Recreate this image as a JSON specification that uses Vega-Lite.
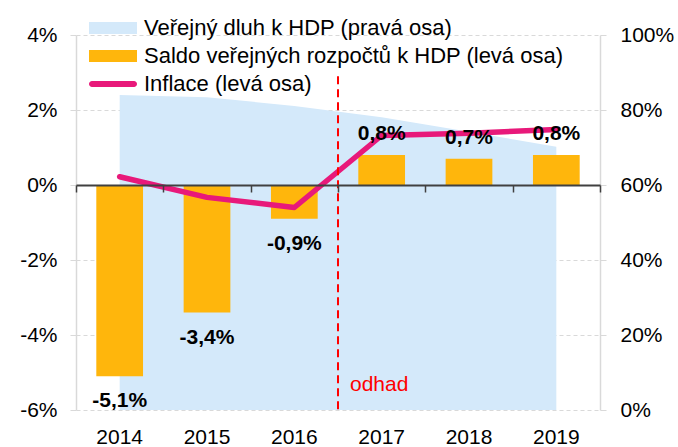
{
  "$schema": "https://vega.github.io/schema/vega-lite/v6.json",
  "width": 524,
  "height": 375,
  "autosize": "none",
  "padding": {"left": 76, "top": 35, "right": 78, "bottom": 37},
  "data": {
    "values": [
      {"year": "2014", "saldo": -0.051, "inflace": 0.0022, "dluh": 0.840},
      {"year": "2015", "saldo": -0.034, "inflace": -0.0033, "dluh": 0.834},
      {"year": "2016", "saldo": -0.009, "inflace": -0.0060, "dluh": 0.811},
      {"year": "2017", "saldo": 0.008, "inflace": 0.0132, "dluh": 0.781},
      {"year": "2018", "saldo": 0.007, "inflace": 0.0138, "dluh": 0.742},
      {"year": "2019", "saldo": 0.008, "inflace": 0.0148, "dluh": 0.702}
    ]
  },
  "config": {
    "view": {"stroke": null},
    "font": "Liberation Sans",
    "locale": {"number": {"decimal": ",", "thousands": " ", "grouping": [3], "currency": ["", " Kč"], "minus": "-"}},
    "axis": {"labelFont": "Liberation Sans", "labelFontSize": 21, "labelColor": "#000000", "title": null}
  },
  "layer": [
    {
      "mark": {"type": "area", "opacity": 1, "interpolate": "linear"},
      "encoding": {
        "x": {
          "field": "year", "type": "nominal",
          "scale": {"type": "band", "paddingInner": 0, "paddingOuter": 0},
          "axis": {"orient": "bottom", "domain": false, "ticks": false, "grid": false, "labelPadding": 16, "labelAngle": 0}
        },
        "y": {
          "field": "dluh", "type": "quantitative",
          "scale": {"domain": [0, 1], "nice": false},
          "axis": {"orient": "right", "values": [0, 0.2, 0.4, 0.6, 0.8, 1], "format": ".0%", "grid": false, "domainColor": "#D9D9D9", "domainWidth": 1.5, "tickColor": "#D9D9D9", "tickSize": 6, "labelPadding": 14}
        },
        "color": {
          "datum": "Veřejný dluh k HDP (pravá osa)",
          "scale": {
            "domain": ["Veřejný dluh k HDP (pravá osa)", "Saldo veřejných rozpočtů k HDP (levá osa)", "Inflace (levá osa)"],
            "range": ["#D4E9FA", "#FFB60C", "#E8197A"]
          },
          "legend": {
            "title": null,
            "orient": "none",
            "legendX": 8,
            "legendY": -18,
            "labelFont": "Liberation Sans",
            "labelFontSize": 22,
            "labelColor": "#000000",
            "labelLimit": 600,
            "labelOffset": 38,
            "rowPadding": 6,
            "symbolType": "M-1,-1H7V1H-1Z",
            "symbolSize": 144,
            "symbolStrokeWidth": 0,
            "symbolOpacity": 1,
            "encode": {
              "symbols": {
                "update": {
                  "shape": {"signal": "datum.value === 'Inflace (levá osa)' ? 'M-0.5,-0.5H6.5A0.5,0.5 0 0 1 6.5,0.5H-0.5A0.5,0.5 0 0 1 -0.5,-0.5Z' : 'M-1,-1H7V1H-1Z'"},
                  "fill": {"scale": "color", "field": "value"},
                  "stroke": {"value": "transparent"},
                  "opacity": {"value": 1}
                }
              }
            }
          }
        }
      }
    },
    {
      "encoding": {
        "x": {
          "field": "year", "type": "nominal",
          "scale": {"type": "band", "paddingInner": 0, "paddingOuter": 0},
          "axis": {"orient": "bottom", "offset": -225, "labels": false, "grid": false, "zindex": 1, "domainColor": "#404040", "domainWidth": 2, "ticks": true, "tickColor": "#404040", "tickWidth": 1.5, "tickSize": 7, "tickBand": "extent"}
        }
      },
      "layer": [
        {
          "mark": {"type": "bar", "width": {"band": 0.535}},
          "encoding": {
            "y": {
              "field": "saldo", "type": "quantitative",
              "scale": {"domain": [-0.06, 0.04], "nice": false, "zero": false},
              "axis": {"orient": "left", "values": [-0.06, -0.04, -0.02, 0, 0.02, 0.04], "format": ".0%", "grid": true, "gridColor": "#D9D9D9", "gridDash": [4, 3], "gridWidth": 1.2, "domainColor": "#D9D9D9", "domainWidth": 1.5, "tickColor": "#D9D9D9", "tickSize": 6, "labelPadding": 13}
            },
            "color": {"datum": "Saldo veřejných rozpočtů k HDP (levá osa)", "legend": null}
          }
        },
        {
          "mark": {"type": "line", "strokeWidth": 5.5, "strokeCap": "round", "strokeJoin": "round"},
          "encoding": {
            "y": {"field": "inflace", "type": "quantitative"},
            "color": {"datum": "Inflace (levá osa)", "legend": null}
          }
        },
        {
          "transform": [{"filter": "datum.saldo >= 0"}],
          "mark": {"type": "text", "font": "Liberation Sans", "fontSize": 21, "fontWeight": "bold", "color": "#000000", "baseline": "alphabetic", "dy": -15},
          "encoding": {
            "y": {"field": "saldo", "type": "quantitative"},
            "text": {"field": "saldo", "type": "quantitative", "format": ".1%"}
          }
        },
        {
          "transform": [{"filter": "datum.saldo < 0"}],
          "mark": {"type": "text", "font": "Liberation Sans", "fontSize": 21, "fontWeight": "bold", "color": "#000000", "baseline": "alphabetic", "dy": 31},
          "encoding": {
            "y": {"field": "saldo", "type": "quantitative"},
            "text": {"field": "saldo", "type": "quantitative", "format": ".1%"}
          }
        },
        {
          "data": {"values": [{"label": "odhad"}]},
          "mark": {"type": "rule", "color": "#FF0000", "strokeWidth": 2, "strokeDash": [8, 5]},
          "encoding": {
            "x": {"datum": "2017", "bandPosition": 0},
            "y": {"datum": 0.029},
            "y2": {"datum": -0.06}
          }
        },
        {
          "data": {"values": [{"label": "odhad"}]},
          "mark": {"type": "text", "font": "Liberation Sans", "fontSize": 21, "color": "#FF0000", "align": "left", "baseline": "alphabetic", "dx": 12},
          "encoding": {
            "x": {"datum": "2017", "bandPosition": 0},
            "y": {"datum": -0.0549},
            "text": {"field": "label"}
          }
        }
      ]
    }
  ],
  "resolve": {"scale": {"y": "independent"}, "axis": {"x": "independent"}}
}
